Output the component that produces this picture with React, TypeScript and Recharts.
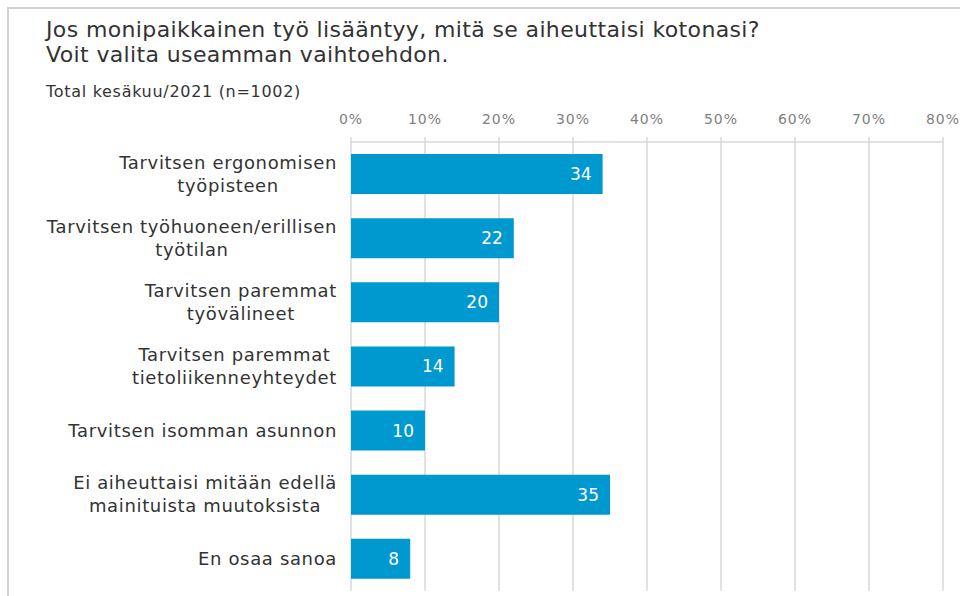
import { BarChart, Bar, XAxis, YAxis, CartesianGrid, LabelList } from "recharts"

const categories = [
  ["Tarvitsen ergonomisen", "työpisteen"],
  ["Tarvitsen työhuoneen/erillisen", "työtilan"],
  ["Tarvitsen paremmat", "työvälineet"],
  ["Tarvitsen paremmat", "tietoliikenneyhteydet"],
  ["Tarvitsen isomman asunnon"],
  ["Ei aiheuttaisi mitään edellä", "mainituista muutoksista"],
  ["En osaa sanoa"],
]
const values = [34, 22, 20, 14, 10, 35, 8]
const ticks = [0, 10, 20, 30, 40, 50, 60, 70, 80]

const titleLines = [
  "Jos monipaikkainen työ lisääntyy, mitä se aiheuttaisi kotonasi?",
  "Voit valita useamman vaihtoehdon.",
]
const subtitle = "Total kesäkuu/2021 (n=1002)"

const FONT = "'DejaVu Sans', Verdana, sans-serif"
const data = categories.map((lines, i) => ({ name: lines.join("\n"), value: values[i] }))

const LABEL_SIZE = 18
const LABEL_SPACING = 0.65

let canvas: HTMLCanvasElement | null = null
function textWidth(s: string, size: number, spacing: number) {
  if (!canvas) canvas = document.createElement("canvas")
  const ctx = canvas.getContext("2d")!
  ctx.font = `${size}px 'DejaVu Sans'`
  return ctx.measureText(s).width + spacing * s.length
}

function CategoryTick(props: any) {
  const { x, y, payload } = props
  const lines: string[] = String(payload.value).split("\n")
  const lh = 23
  const maxW = Math.max(...lines.map((l) => textWidth(l, LABEL_SIZE, LABEL_SPACING)))
  const cx = x - maxW / 2
  const y0 = y - ((lines.length - 1) * lh) / 2 + 6
  return (
    <g>
      {lines.map((l, i) => (
        <text
          key={i}
          x={cx}
          y={y0 + i * lh}
          textAnchor="middle"
          fill="#333"
          fontSize={LABEL_SIZE}
          fontFamily={FONT}
          style={{ letterSpacing: LABEL_SPACING }}
        >
          {l}
        </text>
      ))}
    </g>
  )
}

export default function App() {
  return (
    <div style={{ position: "absolute", left: 0, top: 0, width: 960, height: 596, background: "#fff", overflow: "hidden", fontFamily: FONT }}>
      <div style={{ position: "absolute", left: 7, top: 7, width: 1000, height: 1000, borderLeft: "2px solid #d2d2d2", borderTop: "2px solid #d2d2d2" }} />
      <div style={{ position: "absolute", left: 46, top: 17, fontSize: 22, lineHeight: "25px", letterSpacing: 0.37, color: "#333", whiteSpace: "nowrap" }}>
        {titleLines.map((t, i) => (
          <div key={i}>{t}</div>
        ))}
      </div>
      <div style={{ position: "absolute", left: 46, top: 82, fontSize: 16, letterSpacing: 0.7, color: "#333", whiteSpace: "nowrap" }}>{subtitle}</div>
      <div style={{ position: "absolute", left: 0, top: 0 }}>
        <BarChart width={960} height={596} data={data} layout="vertical" margin={{ top: 112, right: 17, bottom: 5, left: 0 }}>
          <CartesianGrid horizontal={false} stroke="#d9d9d9" strokeWidth={1.5} />
          <XAxis
            type="number"
            orientation="top"
            domain={[0, 80]}
            ticks={ticks}
            height={30}
            tickFormatter={(v) => `${v}%`}
            tick={{ fill: "#7f7f7f", fontSize: 14, fontFamily: FONT, style: { letterSpacing: 1 } }}
            axisLine={{ stroke: "#d9d9d9", strokeWidth: 1.5 }}
            tickLine={{ stroke: "#d9d9d9", strokeWidth: 1.5 }}
            tickSize={5}
            tickMargin={13}
          />
          <YAxis
            type="category"
            dataKey="name"
            width={351}
            axisLine={false}
            tickLine={false}
            tickSize={0}
            tickMargin={14}
            interval={0}
            tick={<CategoryTick />}
          />
          <Bar dataKey="value" fill="#0099cf" barSize={40} isAnimationActive={false}>
            <LabelList dataKey="value" position="insideRight" offset={11} fill="#fff" fontSize={17} fontFamily={FONT} />
          </Bar>
        </BarChart>
      </div>
    </div>
  )
}
